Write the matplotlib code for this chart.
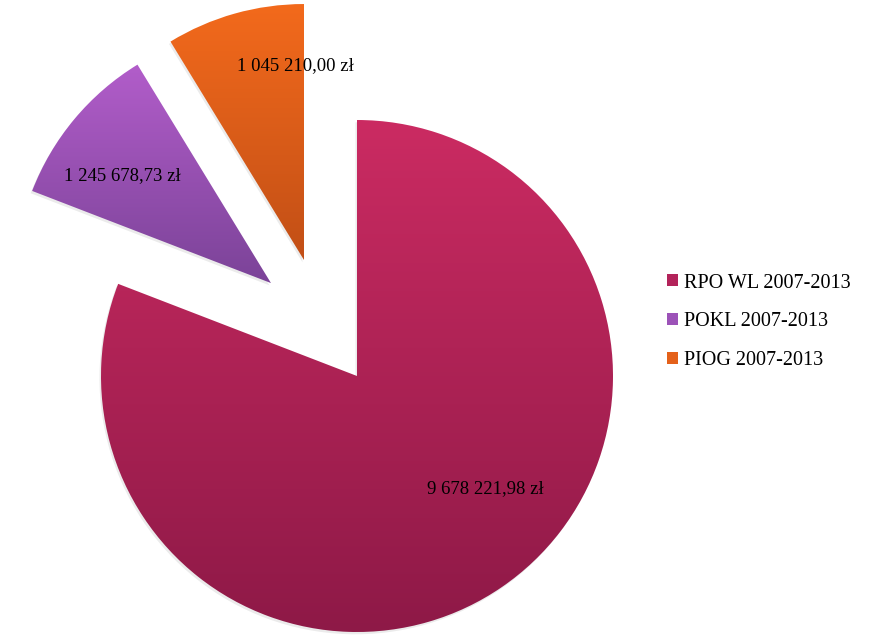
import matplotlib
matplotlib.use("Agg")
import matplotlib.pyplot as plt
import numpy as np
from matplotlib.colors import LinearSegmentedColormap
from matplotlib.patches import Patch, Wedge

labels = ["RPO WL 2007-2013", "POKL 2007-2013", "PIOG 2007-2013"]
values = [9678221.98, 1245678.73, 1045210.00]
top_colors = ["#CB2B62", "#B25DCA", "#F36A1C"]
bottom_colors = ["#8E1947", "#7B4398", "#C24F16"]
legend_colors = ["#B3235A", "#9C52B8", "#E4611A"]

# wedge vertex offsets (in radius units) and label offsets
offsets = [(0.0, 0.0), (-0.336, 0.363), (-0.207, 0.453)]
label_pos = [(0.50, -0.44), (-0.58, 0.42), (-0.035, 0.76)]

W, H = 880, 639
R_PX = 256
CX, CY = 357, 376  # pie centre, pixels from top-left


def pln(v):
    return f"{v:,.2f}".replace(",", " ").replace(".", ",") + " zł"


fig = plt.figure(figsize=(W / 100, H / 100), dpi=100)
ax = fig.add_axes([0, 0, 1, 1])
ax.set_aspect("equal")
ax.axis("off")

wedges, _ = ax.pie(values, startangle=90, counterclock=False, radius=1.0,
                   wedgeprops=dict(linewidth=0))

grad = np.linspace(1, 0, 256).reshape(-1, 1)
for i, w in enumerate(wedges):
    w.set_center(offsets[i])
    w.set_alpha(0)
    # soft shadow
    sh = Wedge((offsets[i][0] - 0.006, offsets[i][1] - 0.009), 1.0, w.theta1, w.theta2,
               facecolor="#000000", alpha=0.08, linewidth=0, zorder=1)
    ax.add_patch(sh)
    cmap = LinearSegmentedColormap.from_list(f"g{i}", [bottom_colors[i], top_colors[i]])
    bb = w.get_path().get_extents()
    im = ax.imshow(grad, cmap=cmap, extent=[bb.x0, bb.x1, bb.y0, bb.y1],
                   aspect="auto", zorder=2, interpolation="bilinear")
    solid = Wedge(offsets[i], 1.0, w.theta1, w.theta2, facecolor="none", linewidth=0)
    ax.add_patch(solid)
    im.set_clip_path(solid)

ax.set_xlim(-CX / R_PX, (W - CX) / R_PX)
ax.set_ylim(-(H - CY) / R_PX, CY / R_PX)

for i, v in enumerate(values):
    ax.text(offsets[i][0] + label_pos[i][0], offsets[i][1] + label_pos[i][1], pln(v),
            ha="center", va="center", fontsize=13.5, family="Liberation Serif",
            color="#000000", zorder=5)

handles = [Patch(facecolor=c, edgecolor="none") for c in legend_colors]
fig.legend(handles, labels, loc="center left", bbox_to_anchor=(0.758, 0.4965),
           frameon=False, prop=dict(family="Liberation Serif", size=14.5),
           handlelength=0.52, handleheight=0.52, handletextpad=0.3, labelspacing=0.98,
           borderpad=0, borderaxespad=0)

fig.savefig("out.png", dpi=100)
